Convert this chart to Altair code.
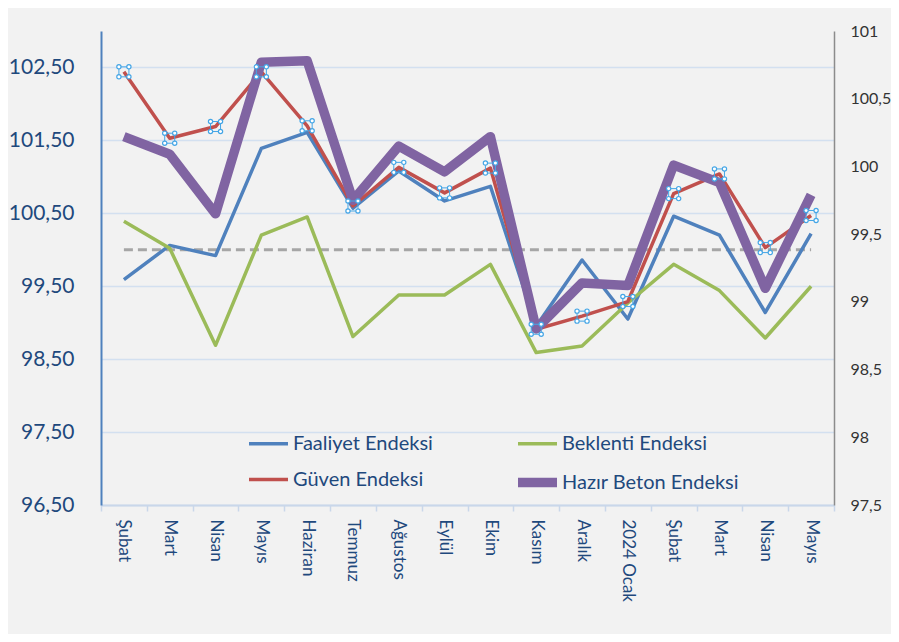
import altair as alt
import pandas as pd

months = ["Şubat", "Mart", "Nisan", "Mayıs", "Haziran", "Temmuz", "Ağustos", "Eylül",
          "Ekim", "Kasım", "Aralık", "2024 Ocak", "Şubat", "Mart", "Nisan", "Mayıs"]
faaliyet = [99.59, 100.06, 99.92, 101.39, 101.61, 100.57, 101.08, 100.67,
            100.87, 98.95, 99.86, 99.05, 100.46, 100.20, 99.14, 100.22]
beklenti = [100.39, 100.02, 98.69, 100.20, 100.45, 98.81, 99.38, 99.38,
            99.80, 98.59, 98.68, 99.27, 99.80, 99.44, 98.79, 99.50]
guven = [102.44, 101.53, 101.69, 102.44, 101.70, 100.60, 101.13, 100.78,
         101.12, 98.91, 99.09, 99.29, 100.77, 101.04, 100.03, 100.47]
hazir_beton = [100.22, 100.09, 99.65, 100.77, 100.78, 99.75, 100.15, 99.96,
               100.22, 98.80, 99.14, 99.12, 100.01, 99.88, 99.10, 99.79]
reference = [100.0] * 16

series_names = ["Faaliyet Endeksi", "Beklenti Endeksi", "Güven Endeksi", "Hazır Beton Endeksi"]
series_colors = ["#4f81bd", "#9bbb59", "#c0504d", "#8064a2"]
series_widths = [3.5, 3.5, 3.5, 9.5]

idx = list(range(len(months)))
left_rows = []
for name, vals in [("Faaliyet Endeksi", faaliyet), ("Beklenti Endeksi", beklenti), ("Güven Endeksi", guven)]:
    for i, v in zip(idx, vals):
        left_rows.append({"idx": i, "series": name, "value": v})
left_df = pd.DataFrame(left_rows)
right_df = pd.DataFrame({"idx": idx, "series": "Hazır Beton Endeksi", "value": hazir_beton})
ref_df = pd.DataFrame({"idx": idx, "value": reference})
guven_df = pd.DataFrame({"idx": idx, "value": guven})

label_array = "[" + ",".join("'" + m + "'" for m in months) + "]"
TEXT = "#1f497d"
FONT = "Lato"

x_axis = alt.Axis(title=None, labelExpr=label_array + "[datum.value]",
                  labelAngle=90, labelAlign="left", labelBaseline="middle",
                  labelFontSize=17, labelColor=TEXT, labelFont=FONT, labelPadding=8,
                  domainColor="#c9d7ea", domainWidth=2, tickColor="#c9d7ea",
                  tickWidth=1.5, tickSize=6, tickBand="extent", grid=False)
x_scale = alt.Scale(type="band", paddingInner=0, paddingOuter=0)
x_enc = alt.X("idx:O", scale=x_scale, axis=x_axis)

left_scale = alt.Scale(domain=[96.5, 103], nice=False, zero=False)
right_scale = alt.Scale(domain=[97.5, 101], nice=False, zero=False)

legend = alt.Legend(title=None, orient="none", legendX=143, legendY=391,
                    columns=2, symbolType="stroke", symbolSize=1521,
                    labelFontSize=20, labelColor=TEXT, labelFont=FONT, labelLimit=0,
                    columnPadding=66, rowPadding=4, labelOffset=0,
                    symbolOffset=0, direction="horizontal")
color_enc = alt.Color("series:N", scale=alt.Scale(domain=series_names, range=series_colors),
                      legend=legend)
width_enc = alt.StrokeWidth("series:N",
                            scale=alt.Scale(type="ordinal", domain=series_names, range=series_widths),
                            legend=legend)

left_axis = alt.Axis(title=None, values=[96.5, 97.5, 98.5, 99.5, 100.5, 101.5, 102.5],
                     labelExpr="replace(format(datum.value, '.2f'), '.', ',')",
                     labelFontSize=21, labelColor=TEXT, labelFont=FONT, labelPadding=27,
                     domainColor="#4f81bd", domainWidth=2, ticks=False,
                     grid=True, gridColor="#d3e0f0", gridWidth=1.5)

ref_line = alt.Chart(ref_df).mark_line(color="#a6a6a6", strokeWidth=3, strokeDash=[9, 5]).encode(
    x=x_enc,
    y=alt.Y("value:Q", scale=left_scale, axis=left_axis),
)
left_lines = alt.Chart(left_df).mark_line(strokeJoin="round").encode(
    x=x_enc,
    y=alt.Y("value:Q", scale=left_scale, axis=left_axis),
    color=color_enc,
    strokeWidth=width_enc,
    detail="series:N",
)
left_group = alt.layer(ref_line, left_lines)

right_line = alt.Chart(right_df).mark_line(strokeJoin="round").encode(
    x=x_enc,
    y=alt.Y("value:Q", scale=right_scale,
            axis=alt.Axis(title=None, orient="right", values=[97.5, 98, 98.5, 99, 99.5, 100, 100.5, 101],
                          labelExpr="replace(format(datum.value, '~f'), '.', ',')",
                          labelFontSize=16, labelColor="#333333", labelFont=FONT, labelPadding=16,
                          domainColor="#8c8c8c", domainWidth=1.5, ticks=False, grid=False)),
    color=color_enc,
    strokeWidth=width_enc,
)

HANDLE = "#45a6e6"
handle_layers = [
    alt.Chart(guven_df).mark_point(shape="square", size=100, filled=False, color=HANDLE,
                                   strokeWidth=1, opacity=1).encode(
        x=x_enc, y=alt.Y("value:Q", scale=left_scale, axis=None))
]
for dx, dy in [(-5, -5), (5, -5), (-5, 5), (5, 5)]:
    handle_layers.append(
        alt.Chart(guven_df).mark_point(shape="circle", size=18, filled=True, fill="white",
                                       stroke=HANDLE, strokeWidth=1.2, opacity=1,
                                       xOffset=dx, yOffset=dy).encode(
            x=x_enc, y=alt.Y("value:Q", scale=left_scale, axis=None))
    )
handles = alt.layer(*handle_layers)

chart = alt.layer(left_group, right_line, handles).resolve_scale(y="independent").properties(
    width=733, height=474,
    autosize=alt.AutoSizeParams(type="none"),
    padding={"left": 93, "top": 23, "right": 57, "bottom": 129},
    background="#f2f2f2",
).configure_view(stroke=None)

chart.save("out.html", embed_options={"renderer": "svg", "actions": False})
